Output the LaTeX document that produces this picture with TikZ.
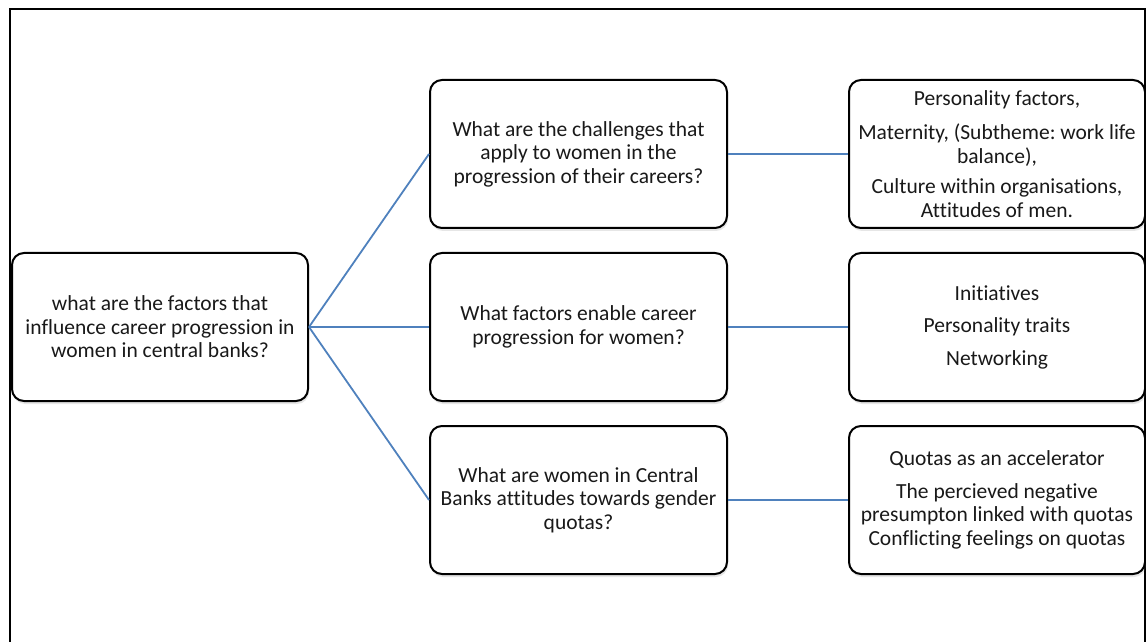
\documentclass[tikz,border=0pt]{standalone}
\usepackage{fontspec}
\setmainfont{Carlito}[Ligatures=NoCommon]
\usetikzlibrary{positioning}
\usetikzlibrary{shadows}
\definecolor{linkblue}{RGB}{79,129,189}
\definecolor{textgrey}{RGB}{25,25,25}
\tikzset{
	node distance = 23pt and 120pt,
	every node/.style={align=center},
	qbox/.style={rectangle, rounded corners=12pt, draw=black, line width=2pt, fill=white,
		minimum width=297pt, minimum height=148pt, inner sep=4pt, text=textgrey,
		font=\fontsize{21.5}{23.5}\selectfont,
		drop shadow={opacity=0.2, shadow xshift=1pt, shadow yshift=-3pt}},
	link/.style={draw=linkblue, line width=1.8pt}
}

\begin{document}
\frenchspacing
\begin{tikzpicture}[x=1pt, y=1pt]
	\useasboundingbox (0,0) rectangle (1146,641);
	\draw[line width=2pt] (10,-5) -- (10,632) -- (1145,632) -- (1145,-5);

	\node (root) [qbox, minimum width=296pt] at (160,314) {what are the factors that\\ influence career progression in\\ women in central banks?};
	\node (enable) [qbox, right = of root] {What factors enable career\\ progression for women?};
	\node (challenge) [qbox, above = of enable] {What are the challenges that\\ apply to women in the\\ progression of their careers?};
	\node (quota) [qbox, below = of enable] {What are women in Central\\ Banks attitudes towards gender\\ quotas?};

	\node (challengeT) [qbox, minimum width=296pt, right = of challenge] {Personality factors,\\[11pt] Maternity, (Subtheme: work life\\ balance),\\[7pt] Culture within organisations,\\ Attitudes of men.};
	\node (enableT) [qbox, minimum width=296pt, right = of enable] {Initiatives\\[9pt] Personality traits\\[9pt] Networking};
	\node (quotaT) [qbox, minimum width=296pt, right = of quota] {Quotas as an accelerator\\[9pt] The percieved negative\\ presumpton linked with quotas\\ Conflicting feelings on quotas};

%	\path[link] (root) edge (enable);
	\path[link] (root.east) edge (challenge.west);
	\path[link] (root.east) edge (enable.west);
	\path[link] (root.east) edge (quota.west);
	\path[link] (challenge) edge (challengeT);
	\path[link] (enable) edge (enableT);
	\path[link] (quota) edge (quotaT);
\end{tikzpicture}
\end{document}
